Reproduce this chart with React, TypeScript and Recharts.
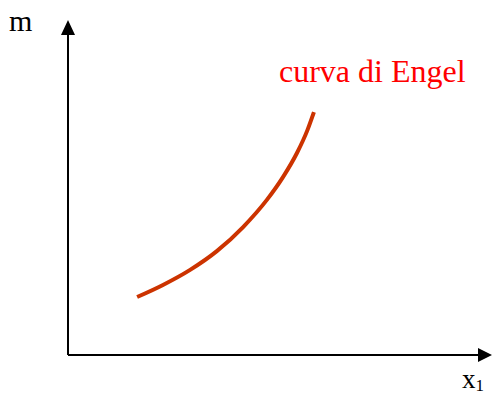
import { LineChart, Line, XAxis, YAxis, ReferenceLine, ReferenceDot } from 'recharts';

// curva di Engel: reddito m in funzione della quantità x1
const x1Values = [16.3, 22.4, 28.8, 35.1, 41.3, 46.9, 50.7, 54.0, 56.4, 58.0];
const mValues = [17.3, 20.9, 25.4, 31.0, 38.2, 46.3, 53.1, 60.3, 66.9, 72.5];

const data = x1Values.map((x, i) => ({ x, m: mValues[i] }));

const RightArrow = (props: any) => {
  const { cx, cy } = props;
  return <path d={`M${cx},${cy} L${cx - 14},${cy - 7} L${cx - 14},${cy + 7} Z`} fill="#000" />;
};

const UpArrow = (props: any) => {
  const { cx, cy } = props;
  return <path d={`M${cx},${cy} L${cx - 7},${cy + 15} L${cx + 7},${cy + 15} Z`} fill="#000" />;
};

const textStyle = { position: 'absolute' as const, fontFamily: '"Liberation Serif", serif', lineHeight: 1, whiteSpace: 'nowrap' as const };

const App = () => {
  return (
    <div style={{ position: 'absolute', left: 0, top: 0, width: 492, height: 395, background: '#fff', overflow: 'hidden' }}>
      <LineChart width={492} height={395} data={data} margin={{ top: 20, right: 0, left: 68, bottom: 40 }}>
        <XAxis dataKey="x" type="number" domain={[0, 100]} hide />
        <YAxis type="number" domain={[0, 100]} hide />
        <ReferenceLine segment={[{ x: 0, y: 0 }, { x: 97, y: 0 }]} stroke="#000" strokeWidth={2} ifOverflow="visible" />
        <ReferenceLine segment={[{ x: 0, y: 0 }, { x: 0, y: 96 }]} stroke="#000" strokeWidth={2} ifOverflow="visible" />
        <ReferenceDot x={100} y={0} shape={RightArrow} ifOverflow="visible" />
        <ReferenceDot x={0} y={100} shape={UpArrow} ifOverflow="visible" />
        <Line type="monotone" dataKey="m" stroke="#cc3300" strokeWidth={4} dot={false} isAnimationActive={false} />
      </LineChart>
      <div style={{ ...textStyle, left: 9, top: 6, fontSize: 30, color: '#000' }}>m</div>
      <div style={{ ...textStyle, left: 279, top: 55, fontSize: 32, color: '#ff0000' }}>curva di Engel</div>
      <div style={{ ...textStyle, left: 462, top: 366, fontSize: 27, color: '#000' }}>
        x<span style={{ fontSize: 17, position: 'relative', top: 3 }}>1</span>
      </div>
    </div>
  );
};

export default App;
